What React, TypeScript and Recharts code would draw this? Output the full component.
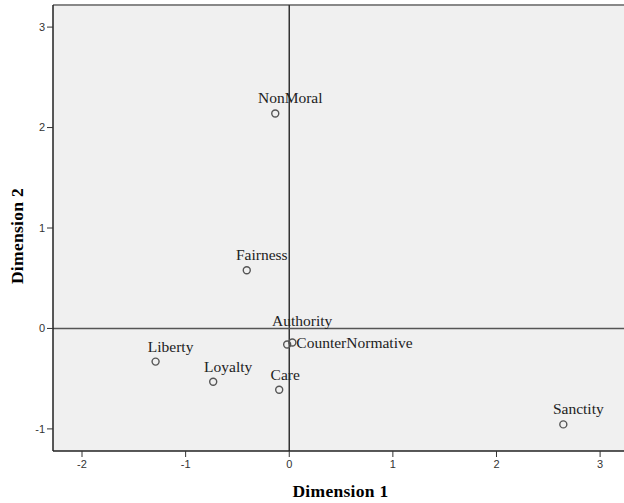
import React from 'react';
import {
    ScatterChart, Scatter, XAxis, YAxis, CartesianGrid, ReferenceLine, Label, LabelList
} from 'recharts';

// object points
const labels = ['NonMoral', 'Fairness', 'Authority', 'CounterNormative', 'Liberty', 'Loyalty', 'Care', 'Sanctity'];
const dim1 = [-0.135, -0.41, -0.02, 0.03, -1.29, -0.734, -0.097, 2.645];
const dim2 = [2.14, 0.58, -0.16, -0.14, -0.33, -0.53, -0.61, -0.955];

const xTicks = [-2, -1, 0, 1, 2, 3];
const yTicks = [-1, 0, 1, 2, 3];

const X_DOMAIN: [number, number] = [-2.28, 3.385];
const Y_DOMAIN: [number, number] = [-1.22, 3.22];

const data = labels.map((name, i) => ({ name, x: dim1[i], y: dim2[i] }));

const SERIF = 'Liberation Serif';
const SANS = '"Liberation Sans", Arial, sans-serif';

const tickStyle = { fontFamily: SANS, fontSize: 11, fill: '#333' };
const titleStyle = { fontFamily: SERIF, fontSize: 17.5, fontWeight: 'bold', fill: '#000', letterSpacing: 0.3 };

// where each label sits relative to its marker
const labelPos = (name: string) => {
    if (name === 'CounterNormative') return { dx: 4, dy: 5.5, anchor: 'start' };
    if (name === 'Authority') return { dx: 15, dy: -19, anchor: 'middle' };
    if (name === 'Care') return { dx: 6, dy: -10, anchor: 'middle' };
    return { dx: 15, dy: -10, anchor: 'middle' };
};

const PointShape = (props: any) => {
    const { cx, cy } = props;
    return <circle cx={cx} cy={cy} r={3.5} fill="none" stroke="#555" strokeWidth={1.4} />;
};

const PointLabel = (props: any) => {
    const { x, y, width, height, value } = props;
    const cx = x + (width || 0) / 2;
    const cy = y + (height || 0) / 2;
    const p = labelPos(value);
    return (
        <text x={cx + p.dx} y={cy + p.dy} textAnchor={p.anchor as any} fontFamily={SERIF}
            fontSize={15.5} fill="#222" style={{ fontFamily: SERIF }}>{value}</text>
    );
};

const XTitle = (props: any) => {
    const vb = props.viewBox || { x: 53, y: 451, width: 587, height: 52 };
    const x = vb.x + vb.width / 2 - 6;
    return (
        <text x={x} y={497} textAnchor="middle" style={titleStyle}>Dimension 1</text>
    );
};

const YTitle = (props: any) => {
    const vb = props.viewBox || { x: 0, y: 5, width: 53, height: 446 };
    const x = 17;
    const y = vb.y + vb.height / 2 + 8;
    return (
        <text x={x} y={y} transform={`rotate(-90, ${x}, ${y})`} textAnchor="middle"
            dominantBaseline="central" style={titleStyle}>
            Dimension 2
        </text>
    );
};

const App: React.FC = () => {
    return (
        <div style={{ position: 'absolute', left: 0, top: 0, width: 624, height: 503, overflow: 'hidden', background: '#fff' }}>
            <ScatterChart width={640} height={503} margin={{ top: 5, right: 0, bottom: 0, left: 0 }}>
                <CartesianGrid horizontal={false} vertical={false} fill="#f0f0f0" />
                <XAxis type="number" dataKey="x" domain={X_DOMAIN} ticks={xTicks} allowDataOverflow
                    height={52} tick={tickStyle} tickSize={6} tickMargin={3}
                    stroke="#222" axisLine={{ stroke: '#222', strokeWidth: 1.5 }} tickLine={{ stroke: '#333' }}>
                    <Label content={<XTitle />} />
                </XAxis>
                <YAxis type="number" dataKey="y" domain={Y_DOMAIN} ticks={yTicks} allowDataOverflow
                    width={53} tick={tickStyle} tickSize={6} tickMargin={2}
                    axisLine={{ stroke: '#222', strokeWidth: 1.5 }} tickLine={{ stroke: '#333' }}>
                    <Label content={<YTitle />} />
                </YAxis>
                <ReferenceLine y={Y_DOMAIN[1]} stroke="#888" strokeWidth={2} />
                <ReferenceLine x={0} stroke="#333" strokeWidth={1.5} />
                <ReferenceLine y={0} stroke="#555" strokeWidth={1.5} />
                <Scatter data={data} shape={<PointShape />} isAnimationActive={false}>
                    <LabelList dataKey="name" content={<PointLabel />} />
                </Scatter>
            </ScatterChart>
        </div>
    );
};

export default App;
